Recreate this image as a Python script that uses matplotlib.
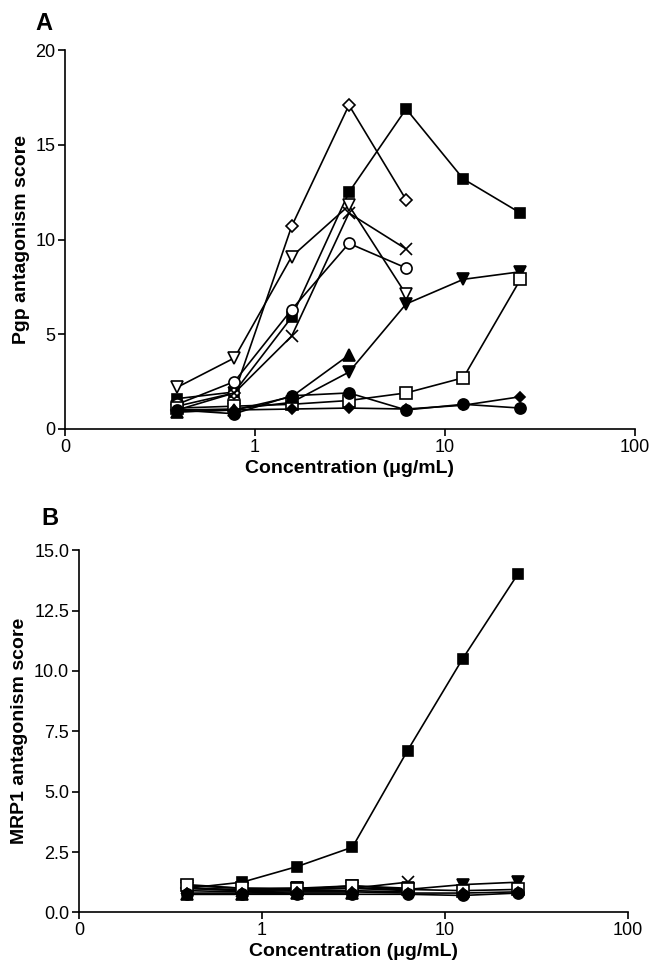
import matplotlib
matplotlib.use("Agg")
import matplotlib.pyplot as plt
from matplotlib.ticker import FixedLocator, NullLocator

plt.rcParams['font.family'] = ['Liberation Sans', 'DejaVu Sans']

# --- datos ---
conc = [0.39, 0.78, 1.56, 3.125, 6.25, 12.5, 25]

# Panel A: Pgp
pgp_sq_fill = [1.6, 1.95, 5.9, 12.5, 16.9, 13.2, 11.4]
pgp_diamond_open = [1.0, 1.9, 10.7, 17.1, 12.1]
pgp_tri_down_open = [2.2, 3.75, 9.1, 11.8, 7.1]
pgp_cross = [1.2, 1.9, 4.9, 11.4, 9.5]
pgp_circle_open = [1.3, 2.5, 6.3, 9.8, 8.5]
pgp_tri_down_fill = [1.0, 1.05, 1.4, 3.0, 6.6, 7.9, 8.3]
pgp_sq_open = [1.1, 1.2, 1.3, 1.5, 1.9, 2.7, 7.9]
pgp_tri_up_fill = [0.9, 1.0, 1.7, 3.9]
pgp_circle_fill = [1.0, 0.8, 1.75, 1.9, 1.0, 1.3, 1.1]
pgp_diamond_fill = [0.9, 1.0, 1.05, 1.1, 1.05, 1.25, 1.7]

# Panel B: MRP1
mrp_sq_fill = [1.0, 1.25, 1.9, 2.7, 6.7, 10.5, 14.0]
mrp_diamond_open = [1.0, 0.9, 0.95, 1.0, 0.9]
mrp_tri_down_open = [1.1, 1.0, 1.0, 1.1, 1.0]
mrp_cross = [1.0, 0.9, 0.95, 1.0, 1.25]
mrp_circle_open = [0.9, 0.85, 0.9, 0.9, 0.85]
mrp_tri_down_fill = [1.0, 0.95, 1.0, 1.0, 0.95, 1.15, 1.25]
mrp_sq_open = [1.15, 1.0, 0.95, 1.1, 0.95, 0.9, 0.95]
mrp_tri_up_fill = [0.75, 0.75, 0.8, 0.8]
mrp_circle_fill = [0.75, 0.75, 0.75, 0.75, 0.75, 0.7, 0.8]
mrp_diamond_fill = [0.8, 0.8, 0.85, 0.85, 0.8, 0.8, 0.85]

# estilo de cada serie: (marcador, relleno, tamaño)
estilos = [
    ('s', 'black', 7.5),
    ('D', 'white', 6.5),
    ('v', 'white', 8.5),
    ('x', 'black', 8.5),
    ('o', 'white', 8),
    ('v', 'black', 8),
    ('s', 'white', 8),
    ('^', 'black', 8),
    ('o', 'black', 8),
    ('D', 'black', 5),
]

series_a = [pgp_sq_fill, pgp_diamond_open, pgp_tri_down_open, pgp_cross,
            pgp_circle_open, pgp_tri_down_fill, pgp_sq_open, pgp_tri_up_fill,
            pgp_circle_fill, pgp_diamond_fill]
series_b = [mrp_sq_fill, mrp_diamond_open, mrp_tri_down_open, mrp_cross,
            mrp_circle_open, mrp_tri_down_fill, mrp_sq_open, mrp_tri_up_fill,
            mrp_circle_fill, mrp_diamond_fill]


def dibujar(ax, series, ylim, yticks, ylabels, ylabel):
    for vals, (m, fc, ms) in zip(series, estilos):
        ax.plot(conc[:len(vals)], vals, color='black', lw=1.2,
                marker=m, markerfacecolor=fc, markeredgecolor='black',
                markersize=ms, markeredgewidth=1.2, clip_on=False)
    ax.set_xscale('log')
    ax.set_xlim(0.1, 100)
    ax.xaxis.set_major_locator(FixedLocator([0.1, 1, 10, 100]))
    ax.xaxis.set_minor_locator(NullLocator())
    ax.set_xticklabels(['0', '1', '10', '100'])
    ax.set_ylim(*ylim)
    ax.set_yticks(yticks)
    ax.set_yticklabels(ylabels)
    for s in ['top', 'right']:
        ax.spines[s].set_visible(False)
    for s in ['left', 'bottom']:
        ax.spines[s].set_linewidth(1.2)
    ax.tick_params(direction='out', length=5, width=1.2, labelsize=13, pad=2)
    ax.set_xlabel('Concentration (\u03bcg/mL)', fontsize=14, fontweight='bold',
                  labelpad=3)
    ax.set_ylabel(ylabel, fontsize=14, fontweight='bold')


fig = plt.figure(figsize=(6.52, 9.66), dpi=100)

ax_a = fig.add_axes([0.0997, 0.556, 0.874, 0.392])
dibujar(ax_a, series_a, (0, 20), [0, 5, 10, 15, 20],
        ['0', '5', '10', '15', '20'], 'Pgp antagonism score')

ax_b = fig.add_axes([0.121, 0.0555, 0.842, 0.375])
dibujar(ax_b, series_b, (0, 15), [0, 2.5, 5, 7.5, 10, 12.5, 15],
        ['0.0', '2.5', '5.0', '7.5', '10.0', '12.5', '15.0'],
        'MRP1 antagonism score')

fig.text(0.055, 0.976, 'A', fontsize=17, fontweight='bold', va='center')
fig.text(0.063, 0.463, 'B', fontsize=17, fontweight='bold', va='center')

fig.savefig('out.png', dpi=100)
